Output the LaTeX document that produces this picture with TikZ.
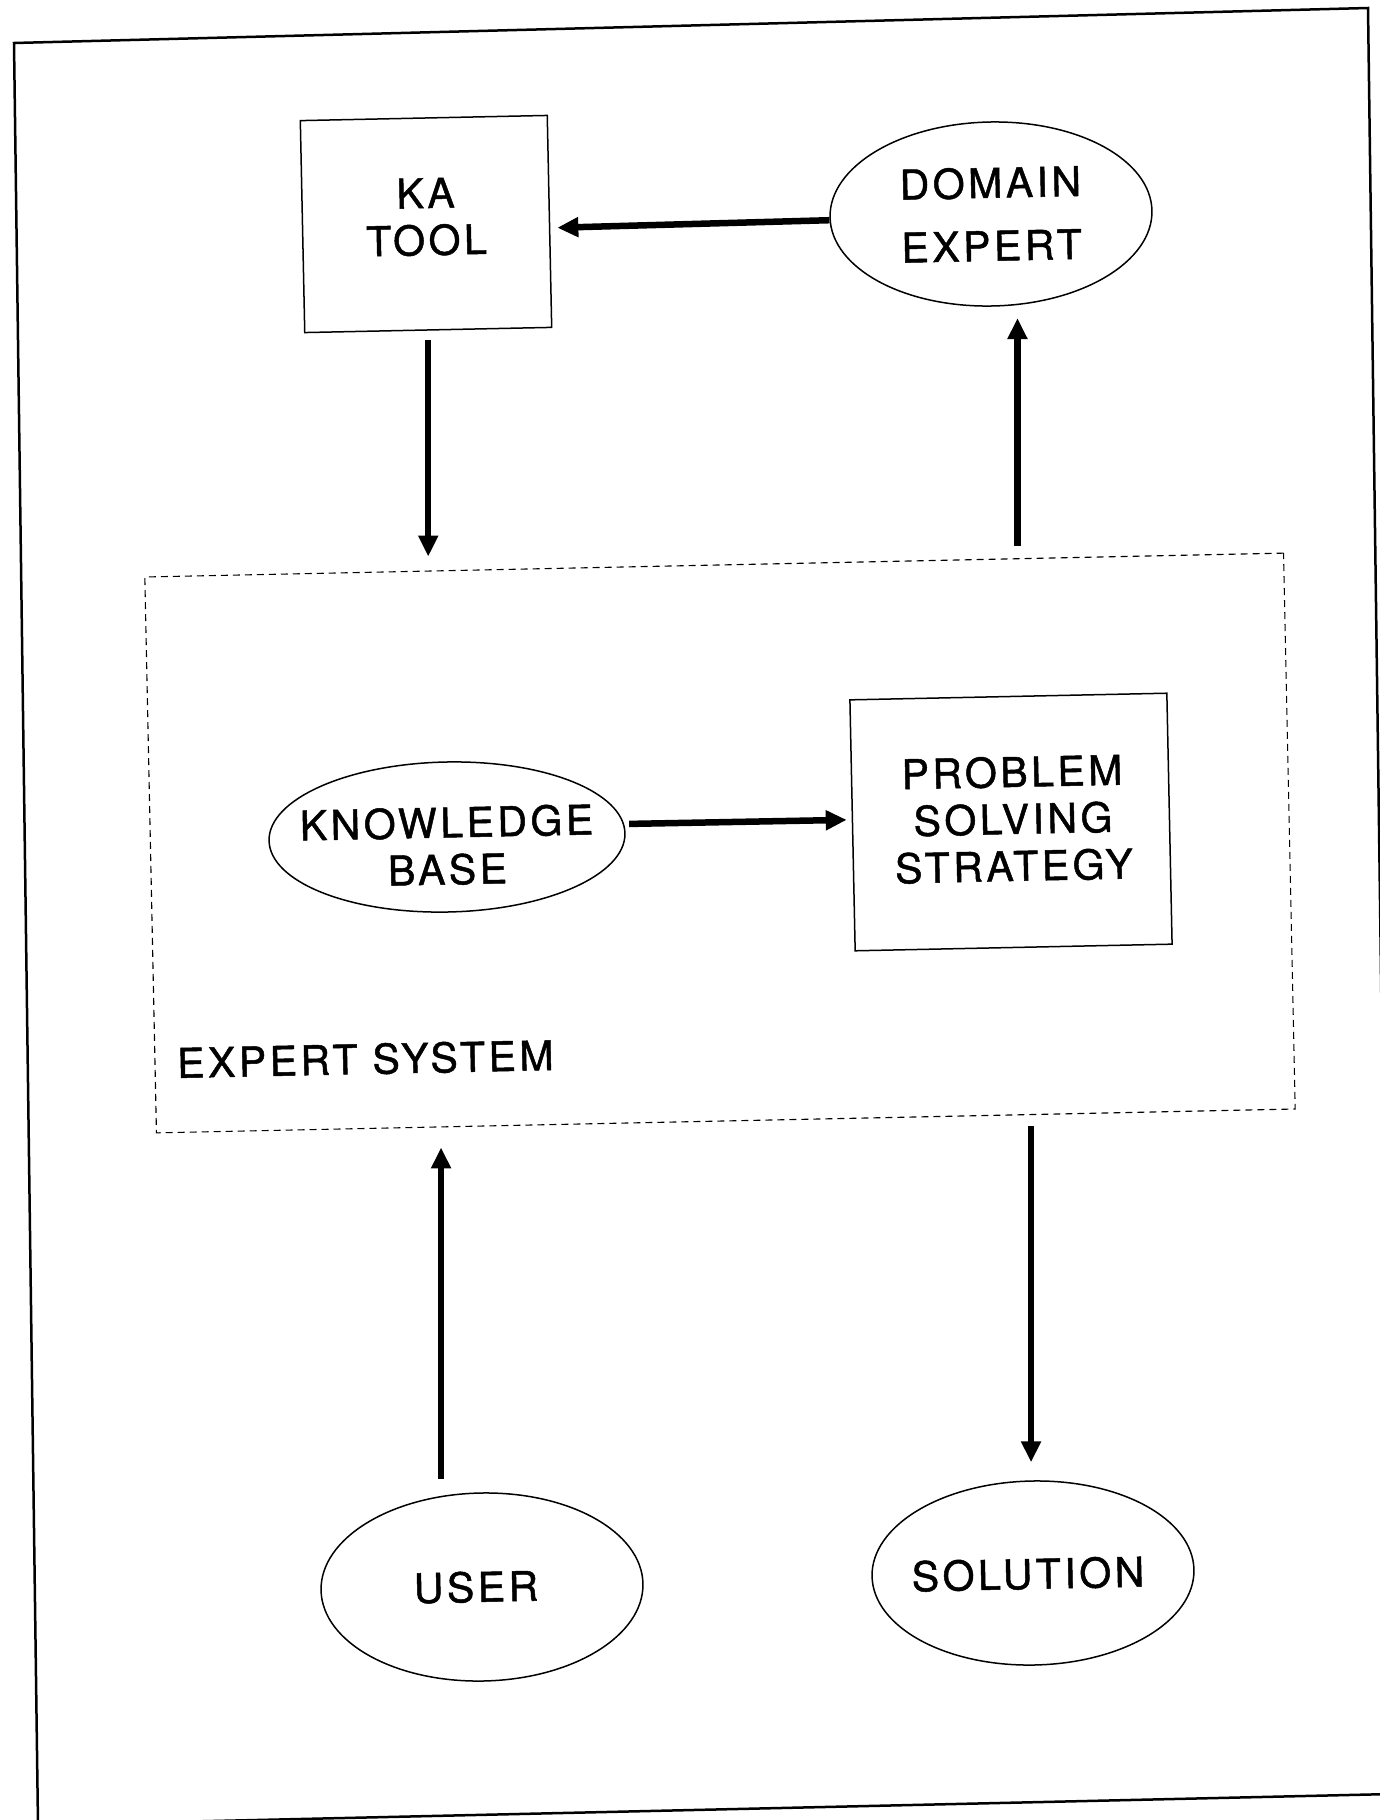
\documentclass[tikz,border=0pt]{standalone}
\usepackage{fontspec}
\setmainfont{TeX Gyre Heros}[LetterSpace=8.5,FakeBold=1.2]
\usetikzlibrary{shapes.geometric,arrows.meta}
\begin{document}
\begin{tikzpicture}[x=1pt,y=-1pt,
  lbl/.style={font=\fontsize{41}{47}\selectfont, align=center, rotate=1.2, inner sep=0pt},
  boxnode/.style={draw, line width=1.5pt, rectangle, rotate=1.2, inner sep=0pt},
  ellnode/.style={lbl, draw, line width=1.5pt, ellipse, inner ysep=0pt, inner xsep=-45pt},
  arr/.style={line width=6.5pt, -{Triangle[length=21pt,width=19pt]}},
  esbox/.style={draw, line width=1.1pt, dash pattern=on 7pt off 5pt, rectangle, rotate=1.2, inner sep=0pt},
]
\fill[white] (0,0) rectangle (1379,1820);
\useasboundingbox (0,0) rectangle (1379,1820);
\draw[line width=2.5pt, line join=miter] (14,43) -- (1368,8) -- (1392,1794) -- (38,1825) -- cycle;

\node[boxnode, minimum width=247pt, minimum height=212pt] (ka) at (426,224) {};
\node[lbl] (kat) at (426,217) {KA\\TOOL};
\node[ellnode, minimum width=322pt, minimum height=184pt] (de) at (991,214) {DOMAIN\\[16pt]EXPERT};
\node[esbox, minimum width=1139pt, minimum height=556pt] (es) at (720,843) {};
\node[ellnode, minimum width=356pt, minimum height=150pt] (kb) at (447,837) {};
\node[lbl] (kbt) at (447,846) {KNOWLEDGE\\BASE};
\node[boxnode, minimum width=317pt, minimum height=251pt] (pss) at (1011,822) {};
\node[lbl] (psst) at (1013,819) {PROBLEM\\SOLVING\\STRATEGY};
\node[lbl, anchor=west] (esl) at (177,1063) {EXPERT SYSTEM};
\node[ellnode, minimum width=322pt, minimum height=188pt] (user) at (482,1587) {};
\node[lbl] (usert) at (476,1587) {USER};
\node[ellnode, minimum width=322pt, minimum height=184pt] (sol) at (1033,1573) {};
\node[lbl] (solt) at (1028,1574) {SOLUTION};

\draw[arr, shorten >=7pt] (de.181.5) -- (ka.-3);
\draw[arr, shorten <=9pt, shorten >=8pt] (ka.south) -- (ka.south |- es.north);
\draw[arr, shorten <=19pt, shorten >=13pt] (de.-75 |- es.north) -- (de.-75);
\draw[arr, shorten <=5pt, shorten >=5pt] (kb.3) -- (pss.178);
\draw[arr, shorten <=17pt, shorten >=26pt] (user.113) -- (user.113 |- es.south);
\draw[arr, shorten <=5pt, shorten >=18pt] (sol.north |- es.south) -- (sol.north);
\end{tikzpicture}
\end{document}
